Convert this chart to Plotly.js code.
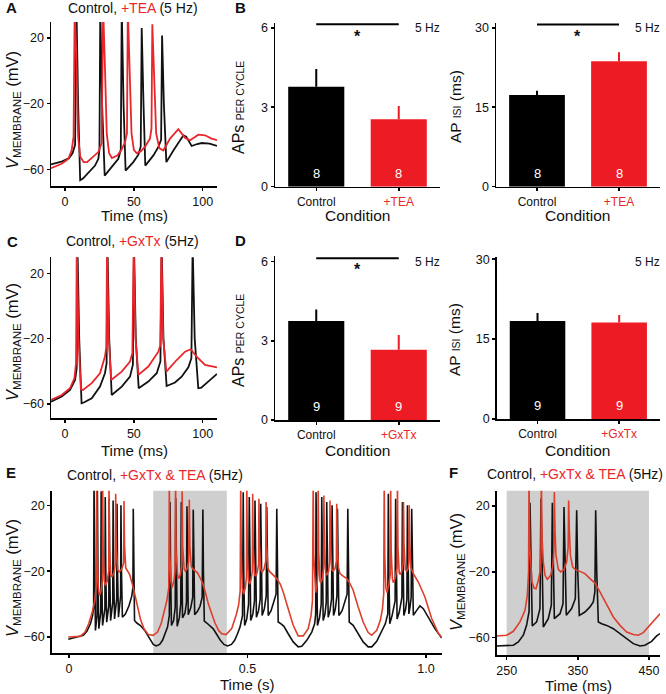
<!DOCTYPE html>
<html>
<head>
<meta charset="utf-8">
<script src="https://cdn.plot.ly/plotly-3.0.1.min.js"></script>
<style>
  html, body { margin: 0; padding: 0; background: #fff; }
  #fig { width: 666px; height: 694px; }
</style>
</head>
<body>
<div id="fig"></div>
<script>
// ---- bar chart values ----
const condTEA = ['Control', '+TEA'];
const condGxTx = ['Control', '+GxTx'];
const apsTEA = [3.77, 2.55];
const apsTEAerr = [0.67, 0.5];
const isiTEA = [17.3, 23.7];
const isiTEAerr = [0.8, 1.7];
const apsGxTx = [3.75, 2.66];
const apsGxTxErr = [0.44, 0.56];
const isiGxTx = [18.4, 18.1];
const isiGxTxErr = [1.5, 1.4];
const nTEA = [8, 8];
const nGxTx = [9, 9];
const sigAps = 6.13;   // height of significance bar
const sigIsi = 30.6;

// ---- voltage traces, [time, mV] ----
// A: control vs +TEA (ms)
const traceA_ctrl = [[-10.2,-56.9],[-2,-55],[3,-53],[5.5,-50],[7.3,-45],[8.3,38],[9.5,-20],[11,-66.5],[13,-65.5],[17,-61.6],[21.8,-57.6],[24.2,-53.5],[25,-48],[25.6,38],[26.9,-20],[28.8,-63.7],[33.9,-58.6],[38.7,-53.5],[40.5,-48],[41.2,38],[42.5,-20],[44,-60.6],[49.6,-55.5],[53.3,-51],[55,-46],[55.7,26],[57,-20],[58.3,-57.6],[64.2,-51.4],[67.8,-46.3],[69.8,-42],[70.5,21.4],[71.8,-20],[73.6,-55.5],[78.7,-48.4],[83.5,-42.2],[86,-39.2],[88,-40],[92,-45.7],[96,-44.5],[99.3,-43.9],[105,-44.3],[110.4,-45.7]];
const traceA_tea = [[-10.2,-59.2],[-2.4,-56.5],[2.4,-53.5],[4.8,-48.4],[6.2,-40],[7,38],[8.2,10],[9.5,-40],[11,-52],[13.5,-55.5],[16,-55.5],[19.4,-53],[24.2,-49.4],[26.6,-44],[27.7,38],[28.9,5],[30.3,-38],[32,-50],[34,-53],[38,-51.5],[41,-48],[43.6,-43.3],[45,-38],[45.6,38],[46.8,5],[48.3,-38],[50,-48],[52,-50],[55,-49],[58,-46.3],[61.7,-41.2],[62.8,-35],[63.4,28.2],[64.6,0],[66.2,-38],[68.5,-47],[71.4,-48.4],[76.3,-41.2],[82.3,-35.5],[87.2,-40.8],[90.8,-42.2],[96.9,-38.8],[101.7,-39.2],[106.5,-41.2],[110.4,-42.2]];

// C: control vs +GxTx (ms)
const traceC_ctrl = [[-10.2,-58.6],[-2.4,-55.5],[3.6,-51.4],[7.3,-45.3],[8.5,-38],[9,38],[10.3,-20],[12,-59.6],[14,-59],[19.4,-56.5],[25.4,-49.4],[29,-41.2],[30.2,-35],[30.8,38],[32.1,-20],[33.9,-54.5],[41.2,-49.4],[47.2,-43.3],[49.3,-36],[50.1,38],[51.4,-20],[53.5,-50.4],[60.5,-46.3],[66.6,-41.2],[69.3,-34],[70.2,38],[71.5,-20],[73.8,-49],[79.9,-46.9],[84.7,-43.3],[89.6,-37.6],[91.8,-32],[92.7,38],[94.2,-20],[96.8,-50.4],[99,-50],[104,-46.3],[110.4,-41.6]];
const traceC_gxtx = [[-10.2,-57.6],[-2.4,-54.5],[3.6,-50.4],[6.8,-44.3],[8,-35],[8.5,38],[9.8,-20],[11.5,-51],[13,-51.4],[19.4,-47.3],[25.4,-41.2],[29,-31],[30,-25],[30.5,38],[31.8,-20],[33.5,-45.3],[41.2,-40.2],[47.2,-34],[48.9,-29],[49.9,38],[51.2,-20],[53.3,-42.2],[60.5,-37.1],[67.8,-28],[69.2,-24],[70,38],[71.3,-20],[73.6,-40.2],[81.1,-33.1],[87.2,-28],[91.3,-26.5],[95.6,-31],[101.7,-36.1],[110.4,-37.6]];

// E: control vs +GxTx & TEA (s)
const traceE_ctrl = [[-0.002,-61.4],[0.015,-60.3],[0.031,-59.6],[0.040,-59],[0.050,-56.5],[0.060,-52],[0.066,-47],[0.069,-42],
  [0.070,35],[0.0715,-20],[0.074,-56],
  [0.0785,-47],[0.0795,29],[0.081,-20],[0.0835,-55],
  [0.089,-45],[0.090,28.5],[0.0915,-20],[0.094,-53],
  [0.1005,-43],[0.1015,25],[0.103,-20],[0.1055,-51],
  [0.1115,-41],[0.1125,24],[0.114,-20],[0.1165,-50],
  [0.1225,-39],[0.1235,23],[0.125,-20],[0.1275,-49],
  [0.1335,-37],[0.1345,21],[0.136,-20],[0.1385,-48],
  [0.1445,-35],[0.1455,20],[0.147,-20],[0.1495,-48],
  [0.158,-46],[0.168,-41],[0.176,-35],[0.179,-30],[0.180,18],[0.1815,-20],[0.1835,-50],
  [0.190,-51.5],[0.200,-53],[0.212,-56],[0.225,-61],[0.236,-64.5],[0.244,-65.4],[0.254,-64.5],[0.262,-62],[0.270,-58],[0.276,-54],[0.281,-47],
  [0.283,22],[0.2845,-20],[0.287,-53],
  [0.293,-50],[0.2975,-42],[0.299,24.5],[0.3005,-20],[0.303,-53.5],
  [0.309,-48.4],[0.313,-40],[0.3145,22],[0.316,-20],[0.318,-48.4],
  [0.325,-45.4],[0.329,-39],[0.3305,19.4],[0.332,-20],[0.334,-46.4],
  [0.341,-42.3],[0.3465,-36],[0.348,17.4],[0.3495,-20],[0.352,-46.4],
  [0.360,-44.4],[0.367,-41.3],[0.373,-36],[0.375,17.4],[0.3765,-20],[0.379,-50.4],
  [0.386,-51.5],[0.395,-53],[0.404,-55],[0.414,-58.5],[0.424,-62],[0.434,-64.5],[0.444,-65.4],[0.455,-64.5],[0.464,-62],[0.472,-58],[0.479,-54],[0.486,-47],
  [0.488,28],[0.4895,-20],[0.492,-53],
  [0.498,-49],[0.503,-40],[0.505,25],[0.5065,-20],[0.509,-50],
  [0.515,-46],[0.5195,-38],[0.521,23],[0.5225,-20],[0.525,-48],
  [0.531,-44],[0.5355,-37],[0.537,21],[0.5385,-20],[0.541,-47],
  [0.547,-43],[0.5525,-35],[0.554,19],[0.5555,-20],[0.558,-47],
  [0.566,-44],[0.574,-39],[0.580,-34],[0.582,18],[0.5835,-20],[0.586,-50.9],
  [0.594,-52],[0.602,-53.5],[0.614,-58],[0.628,-63],[0.642,-66],[0.652,-65.6],[0.666,-62],[0.680,-57],[0.688,-52],
  [0.691,-46],[0.692,28],[0.6935,-20],[0.696,-53],
  [0.702,-48],[0.7065,-40],[0.708,25],[0.7095,-20],[0.712,-50],
  [0.717,-46],[0.7205,-39],[0.722,22],[0.7235,-20],[0.726,-48],
  [0.731,-44],[0.7355,-37],[0.737,20],[0.7385,-20],[0.741,-47],
  [0.746,-43],[0.7505,-35],[0.752,18],[0.7535,-20],[0.756,-47],
  [0.765,-44],[0.773,-39],[0.779,-34],[0.781,18],[0.7825,-20],[0.785,-50.9],
  [0.796,-52.9],[0.810,-58],[0.824,-63],[0.838,-66],[0.848,-66],[0.862,-62.6],[0.876,-56.9],[0.886,-52],[0.893,-46],
  [0.8945,27],[0.896,-20],[0.8985,-52],
  [0.905,-47],[0.9135,-38],[0.915,24],[0.9165,-20],[0.919,-49],
  [0.925,-45],[0.9325,-36],[0.934,22],[0.9355,-20],[0.938,-47],
  [0.943,-43],[0.9465,-37],[0.948,20],[0.9495,-20],[0.952,-46],
  [0.955,-42],[0.9585,-36],[0.960,18],[0.9615,-20],[0.9645,-46.8],
  [0.974,-43.8],[0.983,-41.1],[0.9925,-42.8],[1.0065,-47.8],[1.025,-54.9],[1.044,-60.6]];
const traceE_drug = [[-0.002,-60],[0.031,-59.6],[0.045,-57],[0.055,-52],[0.065,-45],[0.072,-38],[0.0765,-28],
  [0.0775,35],[0.079,-10],[0.082,-30],[0.085,-34.7],[0.090,-32],[0.0935,-25],
  [0.0943,35],[0.0958,-8],[0.099,-26],[0.102,-28.6],[0.107,-26],[0.1112,-20],
  [0.112,35],[0.1135,-6],[0.117,-22],[0.120,-23.5],[0.126,-21],[0.1298,-16],
  [0.1307,27],[0.1322,-4],[0.136,-19],[0.140,-20.5],[0.147,-19],[0.1532,-15],
  [0.154,22.6],[0.1555,-4],[0.159,-18],[0.163,-19.5],
  [0.170,-22],[0.180,-30],[0.190,-40],[0.200,-49],[0.210,-55],[0.222,-58.5],[0.236,-59],[0.248,-57],[0.258,-52],[0.266,-45],[0.274,-38],[0.2795,-30],
  [0.281,35],[0.2825,-10],[0.2855,-26],[0.289,-30],[0.2945,-25],[0.297,-20],
  [0.2985,35],[0.300,-8],[0.304,-22],[0.307,-24.5],[0.312,-22],[0.3155,-17],
  [0.317,28.5],[0.3185,-5],[0.3225,-18.5],[0.326,-20],[0.331,-18.5],[0.335,-14],
  [0.337,23.4],[0.3385,-5],[0.3425,-17],[0.346,-18.5],
  [0.353,-19.7],[0.360,-21],[0.367,-24],[0.374,-27],[0.381,-32],[0.3905,-40],[0.400,-46],[0.409,-51.5],[0.419,-56],[0.428,-58],[0.440,-58.5],[0.4557,-54.9],[0.468,-46.8],[0.475,-40.7],[0.4795,-32],
  [0.481,35],[0.4825,-10],[0.4855,-30],[0.489,-34],[0.494,-30],[0.497,-24],
  [0.498,35],[0.4995,-8],[0.503,-26],[0.506,-28],[0.510,-25],[0.5135,-20],
  [0.5145,27],[0.516,-6],[0.520,-22],[0.523,-23],[0.527,-21],[0.531,-16],
  [0.532,24],[0.5335,-4],[0.537,-19],[0.541,-20.5],[0.546,-19],[0.551,-14],
  [0.552,22],[0.5535,-4],[0.557,-18],[0.561,-20],
  [0.570,-22],[0.582,-24.5],[0.592,-28],[0.600,-32.6],[0.614,-42.8],[0.628,-52.9],[0.642,-59.3],[0.656,-59.3],[0.670,-54.9],[0.678,-47],[0.682,-38],
  [0.684,35],[0.6855,-10],[0.6885,-30],[0.691,-33],[0.695,-28],[0.697,-22],
  [0.698,35],[0.6995,-8],[0.703,-26],[0.706,-27],[0.710,-24],[0.713,-18],
  [0.714,26],[0.7155,-6],[0.719,-21],[0.722,-22.5],[0.727,-20],[0.730,-15],
  [0.731,23],[0.7325,-4],[0.736,-19],[0.740,-20],[0.745,-18.5],[0.749,-14],
  [0.750,21],[0.7515,-4],[0.755,-18],[0.759,-21.5],
  [0.768,-23],[0.778,-24.5],[0.787,-27.5],[0.796,-31.6],[0.810,-41.7],[0.824,-50.9],[0.838,-57.3],[0.848,-58.9],[0.862,-55.9],[0.872,-50],[0.878,-43],[0.8815,-34],
  [0.883,35],[0.8845,-10],[0.8875,-30],[0.891,-33],[0.896,-28],[0.900,-22],
  [0.901,35],[0.9025,-8],[0.906,-25],[0.909,-27],[0.914,-24],[0.919,-18],
  [0.920,35],[0.9215,-6],[0.925,-21],[0.928,-22],[0.932,-20],[0.936,-15],
  [0.937,22],[0.9385,-4],[0.942,-19],[0.946,-20],[0.950,-18.5],[0.952,-15],
  [0.953,20],[0.9545,-4],[0.958,-18],[0.9645,-21.5],
  [0.9785,-26.6],[0.997,-35.7],[1.016,-48.8],[1.035,-57.9],[1.044,-60]];

// F: zoom on shaded cycle (ms)
const traceF_ctrl = [[236,-65],[250,-65],[259.4,-64.6],[266.4,-62.6],[273.4,-58.5],[278,-52.5],[281.5,-44],[282.8,22],[284.3,-20],[286,-52.9],[292.2,-50.4],[296.8,-42.3],[298.2,24.5],[299.7,-20],[301.5,-53.5],[308.5,-48.4],[312.8,-40.3],[314.2,22],[315.7,-20],[317,-48.4],[325,-45.4],[329.2,-39.3],[330.6,19.4],[332.1,-20],[333.8,-46.4],[341.3,-42.3],[346.5,-36.3],[348.4,17.4],[349.9,-20],[352.1,-46.4],[360,-44.4],[367.1,-41.3],[371.8,-38.3],[374,-32],[375.1,17.4],[376.6,-20],[378.8,-50.4],[383.5,-51.5],[390.5,-52.5],[399.9,-54.5],[409.3,-57.5],[418.6,-61],[428,-63.6],[437.4,-65],[444.4,-64.6],[453.7,-62.2],[460.8,-58.9],[465.5,-57.5]];
const traceF_drug = [[236,-59],[250,-58.5],[259.4,-56.1],[268.7,-50.4],[275.8,-43.4],[279,-34.3],[280.8,-20],[281.4,38],[282.5,-5],[283.7,-16],[285.6,-26.2],[288.4,-29.8],[291.2,-30.2],[294.5,-25.1],[296.8,-20],[298.2,-10],[298.7,38],[299.8,0],[301.5,-14],[303.9,-22.1],[307.1,-24.5],[311.8,-22.1],[314.6,-17],[316.3,-8],[317,28.5],[318,5],[319.3,-10],[322.6,-18.5],[325.9,-20],[330.6,-18.5],[334.3,-14],[336.4,-5],[337.1,23.4],[338.1,5],[339.6,-10],[342.7,-17],[346,-18.5],[353,-19.7],[360.1,-21.1],[367.1,-24.1],[374.1,-26.8],[381.1,-32.2],[390.5,-40.3],[399.9,-47.4],[409.3,-52.5],[418.6,-56.5],[428,-58.1],[435,-58.5],[442,-56.9],[449.1,-53.5],[456.1,-50.4],[463.1,-46.4],[465.5,-45.4]];

// shaded windows
const shadeE = [0.236, 0.442];
const shadeF = [250, 450];

const RED = '#e8262b';
const RED_EF = '#dd3f2c';
const BAR_RED = '#ed1c24';
const FONT = 'Liberation Sans, Arial, Helvetica, sans-serif';

// pixel -> paper helpers (figure is 666 x 694)
const px = p => p / 666;
const py = p => 1 - p / 694;

function line(data, xa, ya, color, w) {
    return { x: data.map(d => d[0]), y: data.map(d => d[1]), mode: 'lines', xaxis: xa, yaxis: ya,
             line: { color: color, width: w }, hoverinfo: 'skip' };
}

function bar(i, vals, errs, xa, ya, color) {
    return { type: 'bar', x: [i], y: [vals[i]], width: 0.68, xaxis: xa, yaxis: ya,
             marker: { color: color, line: { width: 0 } },
             error_y: { type: 'data', symmetric: false, array: [errs[i]], arrayminus: [0], color: color, thickness: 2, width: 0 },
             hoverinfo: 'skip' };
}

function sigLine(y, xa, ya) {
    return { x: [0, 1], y: [y, y], mode: 'lines', xaxis: xa, yaxis: ya, line: { color: '#000', width: 2 }, hoverinfo: 'skip' };
}

const traces = [
    line(traceA_ctrl, 'x', 'y', '#111', 1.8),
    line(traceA_tea, 'x', 'y', RED, 1.8),
    bar(0, apsTEA, apsTEAerr, 'x2', 'y2', '#000'),
    bar(1, apsTEA, apsTEAerr, 'x2', 'y2', BAR_RED),
    sigLine(sigAps, 'x2', 'y2'),
    bar(0, isiTEA, isiTEAerr, 'x3', 'y3', '#000'),
    bar(1, isiTEA, isiTEAerr, 'x3', 'y3', BAR_RED),
    sigLine(sigIsi, 'x3', 'y3'),
    line(traceC_ctrl, 'x4', 'y4', '#111', 1.8),
    line(traceC_gxtx, 'x4', 'y4', RED, 1.8),
    bar(0, apsGxTx, apsGxTxErr, 'x5', 'y5', '#000'),
    bar(1, apsGxTx, apsGxTxErr, 'x5', 'y5', BAR_RED),
    sigLine(sigAps, 'x5', 'y5'),
    bar(0, isiGxTx, isiGxTxErr, 'x6', 'y6', '#000'),
    bar(1, isiGxTx, isiGxTxErr, 'x6', 'y6', BAR_RED),
    line(traceE_ctrl, 'x7', 'y7', '#111', 1.6),
    line(traceE_drug, 'x7', 'y7', RED_EF, 1.6),
    line(traceF_ctrl, 'x8', 'y8', '#111', 1.6),
    line(traceF_drug, 'x8', 'y8', RED_EF, 1.6)
];

const ax = {
    showgrid: false, zeroline: false, showline: true, linecolor: '#000', linewidth: 1.5,
    ticks: 'outside', ticklen: 3, tickwidth: 1.5, tickcolor: '#000',
    tickfont: { size: 12.5, color: '#111' }, fixedrange: true
};
const red = s => `<span style="color:${RED}">${s}</span>`;

const layout = {
    width: 666, height: 694, margin: { l: 0, r: 0, t: 0, b: 0 },
    paper_bgcolor: '#fff', plot_bgcolor: 'rgba(0,0,0,0)',
    font: { family: FONT, color: '#111' },
    showlegend: false, barmode: 'overlay',
    // A
    xaxis:  { ...ax, domain: [px(51), px(217)], range: [-10.2, 110.4], tickvals: [0, 50, 100], anchor: 'y' },
    yaxis:  { ...ax, domain: [py(186), py(22)], range: [-70, 29.6], tickvals: [-60, -20, 20], anchor: 'x' },
    // B
    xaxis2: { ...ax, domain: [px(275), px(440)], range: [-0.5, 1.5], tickvals: [0, 1], ticktext: [condTEA[0], red(condTEA[1])], tickfont: { size: 12, color: '#111' }, anchor: 'y2' },
    yaxis2: { ...ax, domain: [py(186.7), py(23)], range: [0, 6.18], tickvals: [0, 3, 6], anchor: 'x2' },
    xaxis3: { ...ax, domain: [px(496), px(660)], range: [-0.5, 1.5], tickvals: [0, 1], ticktext: [condTEA[0], red(condTEA[1])], tickfont: { size: 12, color: '#111' }, anchor: 'y3' },
    yaxis3: { ...ax, domain: [py(186.7), py(23)], range: [0, 30.9], tickvals: [0, 15, 30], anchor: 'x3' },
    // C
    xaxis4: { ...ax, domain: [px(51), px(217)], range: [-10.2, 110.4], tickvals: [0, 50, 100], anchor: 'y4' },
    yaxis4: { ...ax, domain: [py(418.3), py(257.3)], range: [-68.8, 29.8], tickvals: [-60, -20, 20], anchor: 'x4' },
    // D
    xaxis5: { ...ax, domain: [px(275), px(440)], range: [-0.5, 1.5], tickvals: [0, 1], ticktext: [condGxTx[0], red(condGxTx[1])], tickfont: { size: 12, color: '#111' }, anchor: 'y5' },
    yaxis5: { ...ax, domain: [py(420), py(256.4)], range: [0, 6.2], tickvals: [0, 3, 6], anchor: 'x5' },
    xaxis6: { ...ax, domain: [px(496.7), px(660)], range: [-0.5, 1.5], tickvals: [0, 1], ticktext: [condGxTx[0], red(condGxTx[1])], tickfont: { size: 12, color: '#111' }, anchor: 'y6' },
    yaxis6: { ...ax, domain: [py(419), py(257)], range: [0, 30.4], tickvals: [0, 15, 30], anchor: 'x6' },
    // E
    xaxis7: { ...ax, domain: [px(51.7), px(441.7)], range: [-0.0485, 1.044], tickvals: [0, 0.5, 1], ticktext: ['0', '0.5', '1.0'], anchor: 'y7' },
    yaxis7: { ...ax, domain: [py(653.3), py(490.7)], range: [-69.9, 28.9], tickvals: [-60, -20, 20], anchor: 'x7' },
    // F
    xaxis8: { ...ax, domain: [px(496.7), px(660)], range: [236, 465.5], tickvals: [250, 350, 450], anchor: 'y8' },
    yaxis8: { ...ax, domain: [py(655), py(490.7)], range: [-70.5, 29.3], tickvals: [-60, -20, 20], anchor: 'x8' },
    shapes: [
        { type: 'rect', xref: 'x7', yref: 'y7 domain', x0: shadeE[0], x1: shadeE[1], y0: 0, y1: 1, fillcolor: '#cfcfcf', line: { width: 0 }, layer: 'below' },
        { type: 'rect', xref: 'x8', yref: 'y8 domain', x0: shadeF[0], x1: shadeF[1], y0: 0, y1: 1, fillcolor: '#cfcfcf', line: { width: 0 }, layer: 'below' }
    ],
    annotations: []
};

const A = layout.annotations;
function note(text, x, y, size, extra) {
    A.push(Object.assign({ text: text, xref: 'paper', yref: 'paper', x: px(x), y: py(y),
        xanchor: 'center', yanchor: 'middle', showarrow: false, font: { size: size, color: '#111', family: FONT } }, extra || {}));
}

// panel letters
[['A', 11, 8], ['B', 240, 8], ['C', 12.5, 241.5], ['D', 240, 240], ['E', 11, 472], ['F', 453, 472]]
    .forEach(l => note('<b>' + l[0] + '</b>', l[1], l[2], 15));

// panel titles
note('Control, ' + red('+TEA') + ' (5 Hz)', 132.5, 8, 14);
note('Control, ' + red('+GxTx') + ' (5Hz)', 132, 241.5, 14);
note('Control, ' + red('+GxTx &amp; TEA') + ' (5Hz)', 155, 475, 14);
note('Control, ' + red('+GxTx &amp; TEA') + ' (5Hz)', 575, 474, 14);

// axis titles
const vTitle = '<i>V</i><sub>MEMBRANE</sub> (mV)';
const apsTitle = 'APs <span style="font-size:10.5px">PER CYCLE</span>';
const isiTitle = 'AP <span style="font-size:10.5px">ISI</span> (ms)';
note(vTitle, 13, 110, 16.5, { textangle: -90 });
note(vTitle, 13, 342, 16.5, { textangle: -90 });
note(vTitle, 13, 578, 16.5, { textangle: -90 });
note(vTitle, 457, 572, 16.5, { textangle: -90 });
note(apsTitle, 238, 108, 16, { textangle: -90 });
note(apsTitle, 238, 341, 16, { textangle: -90 });
note(isiTitle, 455, 107, 15.5, { textangle: -90 });
note(isiTitle, 455, 340, 15.5, { textangle: -90 });

note('Time (ms)', 134, 215.5, 15);
note('Time (ms)', 134, 450, 15);
note('Time (s)', 246.7, 684, 15);
note('Time (ms)', 578, 685, 15);
note('Condition', 357.5, 215.5, 15.5);
note('Condition', 578, 215.5, 15.5);
note('Condition', 357.5, 450.5, 15.5);
note('Condition', 578, 450.5, 15.5);

// frequency tags and significance stars
note('5 Hz', 427.5, 27.7, 12);
note('5 Hz', 647, 27.7, 12);
note('5 Hz', 427.5, 261.7, 12);
note('5 Hz', 647, 261.7, 12);
note('<b>*</b>', 357.7, 36, 16);
note('<b>*</b>', 577.7, 36, 16);
note('<b>*</b>', 357.7, 270, 16);

// n inside bars
function nLabel(vals, xa, ya, y) {
    vals.forEach((n, i) => A.push({ text: String(n), xref: xa, yref: ya, x: i, y: y, showarrow: false,
        font: { size: 13, color: '#fff', family: FONT }, xanchor: 'center', yanchor: 'middle' }));
}
nLabel(nTEA, 'x2', 'y2', 0.5);
nLabel(nTEA, 'x3', 'y3', 2.5);
nLabel(nGxTx, 'x5', 'y5', 0.5);
nLabel(nGxTx, 'x6', 'y6', 2.5);

Plotly.newPlot('fig', traces, layout, { staticPlot: true, displayModeBar: false });
</script>
</body>
</html>
